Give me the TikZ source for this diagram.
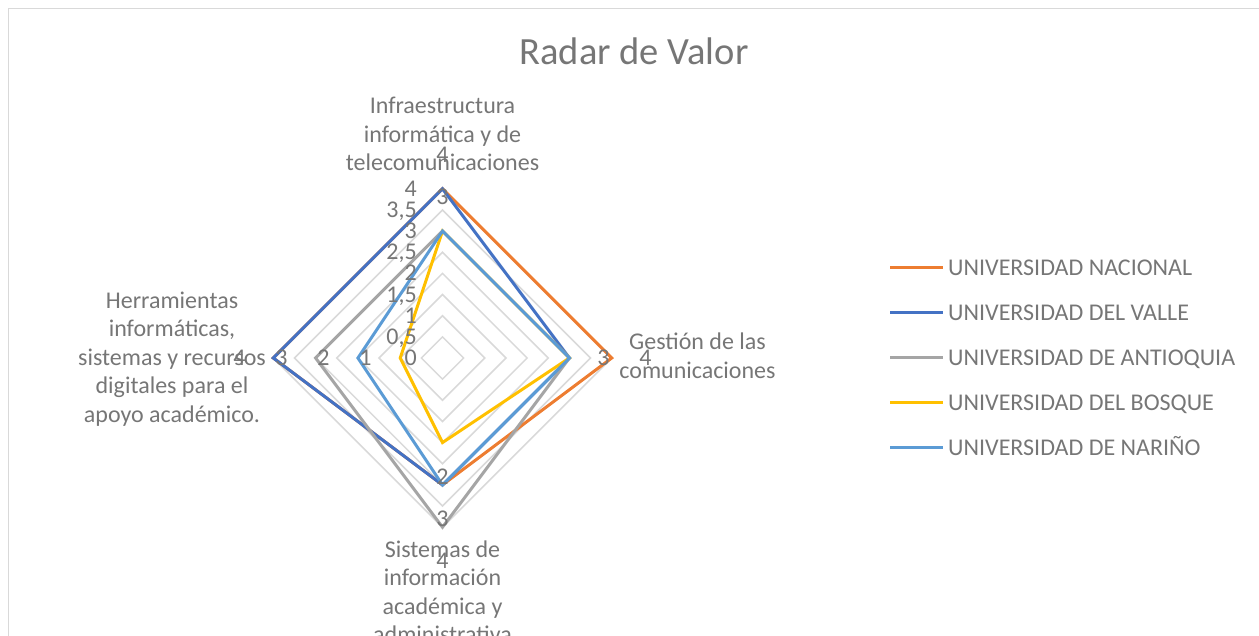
\documentclass[tikz,border=0pt]{standalone}
\usepackage{fontspec}
\setmainfont{Carlito}
\definecolor{txt}{RGB}{118,118,118}
\definecolor{gridc}{RGB}{217,217,217}
\definecolor{sOrange}{RGB}{237,125,49}
\definecolor{sBlue}{RGB}{68,114,196}
\definecolor{sGray}{RGB}{165,165,165}
\definecolor{sYellow}{RGB}{255,192,0}
\definecolor{sLight}{RGB}{91,155,213}
\tikzset{
  lbl/.style={font=\fontsize{24}{28.5}\selectfont, text=txt, inner sep=0pt},
  ttl/.style={font=\fontsize{38.5}{44}\selectfont, text=txt, inner sep=0pt},
  gridline/.style={draw=gridc, line width=1.5pt},
  serie/.style={line width=3pt, line join=miter},
  legline/.style={line width=3pt},
  framebox/.style={draw=gridc, line width=1.5pt},
}
\newcommand\radarseries[6]{%
  \coordinate (#1T) at (0,{-#3*\U});
  \coordinate (#1R) at ({#4*\U},0);
  \coordinate (#1B) at (0,{#5*\U});
  \coordinate (#1L) at ({-#6*\U},0);
  \draw[serie,#2] (#1T) -- (#1R) -- (#1B) -- (#1L) -- cycle;}
\begin{document}
\begin{tikzpicture}[x=1pt,y=-1pt]
\useasboundingbox (0,0) rectangle (1259,636);
\clip (0,0) rectangle (1259,636);
\draw[framebox] (8.5,8.5) rectangle (1290,670);
\node[ttl, anchor=base] (title) at (634,64.5) {Radar de Valor};
\def\U{42.3}
\begin{scope}[shift={(442.5,358)}]
  \coordinate (c) at (0,0);
  \foreach \k in {1,...,8}{
    \pgfmathsetmacro\r{\k*\U/2}
    \draw[gridline] (0,-\r) -- (\r,0) -- (0,\r) -- (-\r,0) -- cycle;
  }
  \radarseries{nac}{sOrange}{4}{4}{3}{4}
  \radarseries{val}{sBlue}{4}{3}{3}{4}
  \radarseries{ant}{sGray}{3}{3}{4}{3}
  \radarseries{bos}{sYellow}{3}{3}{2}{1}
  \radarseries{nar}{sLight}{3}{3}{3}{2}
  % scale labels
  \foreach \v/\t [count=\i] in {0/0, 0.5/{0,5}, 1/1, 1.5/{1,5}, 2/2, 2.5/{2,5}, 3/3, 3.5/{3,5}, 4/4}{
    \node[lbl, anchor=base east] (tick\i) at (-25.5,{-\v*\U+7.6}) {\t};
  }
  % value labels
  \node[lbl, anchor=base] (vt3) at (0,{-(35+3*42)+7.6}) {3};
  \node[lbl, anchor=base] (vt4) at (0,{-(35+4*42)+7.6}) {4};
  \node[lbl, anchor=base] (vr3) at ({35+3*42},7.6) {3};
  \node[lbl, anchor=base] (vr4) at ({35+4*42},7.6) {4};
  \node[lbl, anchor=base] (vb2) at (0,{(35+2*42)+7.6}) {2};
  \node[lbl, anchor=base] (vb3) at (0,{(35+3*42)+7.6}) {3};
  \node[lbl, anchor=base] (vb4) at (0,{(35+4*42)+7.6}) {4};
  \node[lbl, anchor=base] (vl1) at ({-(35+1*42)},7.6) {1};
  \node[lbl, anchor=base] (vl2) at ({-(35+2*42)},7.6) {2};
  \node[lbl, anchor=base] (vl3) at ({-(35+3*42)},7.6) {3};
  \node[lbl, anchor=base] (vl4) at ({-(35+4*42)},7.6) {4};
\end{scope}
% axis labels (base anchor = baseline of last line)
\node[lbl, align=center, anchor=base] (axT) at (442.5,171) {Infraestructura\\informática y de\\telecomunicaciones};
\node[lbl, align=center, anchor=base] (axR) at (697.5,378.5) {Gestión de las\\comunicaciones};
\node[lbl, align=center, anchor=base] (axB) at (442.5,642.5) {Sistemas de\\información\\académica y\\administrativa};
\node[lbl, align=center, anchor=base] (axL) at (172,422) {Herramientas\\informáticas,\\sistemas y recursos\\digitales para el\\apoyo académico.};
% legend
\foreach \y/\col/\name [count=\i] in {267.5/sOrange/UNIVERSIDAD NACIONAL, 312.5/sBlue/UNIVERSIDAD DEL VALLE, 357.5/sGray/UNIVERSIDAD DE ANTIOQUIA, 402.5/sYellow/UNIVERSIDAD DEL BOSQUE, 447.5/sLight/UNIVERSIDAD DE NARIÑO}{
  \coordinate (legA\i) at (890,\y);
  \coordinate (legB\i) at (942.5,\y);
  \draw[legline,\col] (legA\i) -- (legB\i);
  \node[lbl, anchor=base west] (legT\i) at (948,{\y+7.7}) {\name};
}
\end{tikzpicture}
\end{document}
